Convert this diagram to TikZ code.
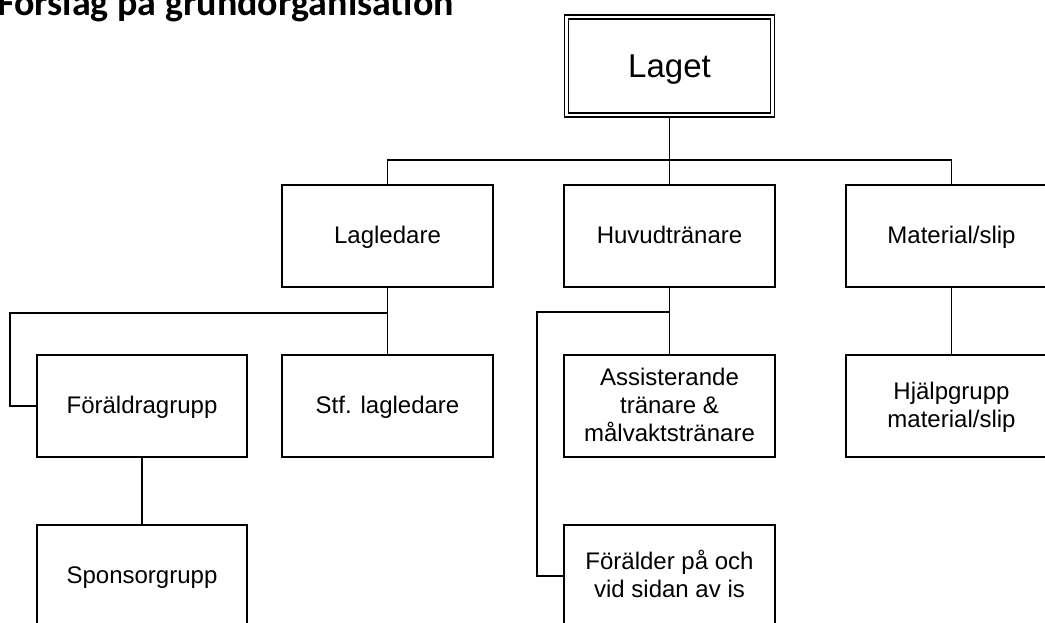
\documentclass[tikz,border=0pt]{standalone}
\usepackage{fontspec}
\setmainfont{Liberation Sans}
\newfontfamily\titlefont{Carlito}
\newcommand\boxtext[2]{\raisebox{#1}{\begin{tabular}[t]{@{}c@{}}#2\end{tabular}}}
\begin{document}
\begin{tikzpicture}[x=1pt,y=-1pt,
  box/.style={draw, line width=1.3pt, minimum width=211pt, minimum height=102pt, inner sep=2pt, outer sep=0pt, text height=0pt, text depth=0pt, font=\fontsize{24}{28}\selectfont},
  topbox/.style={draw, double, double distance=2.7pt, line width=1.3pt, minimum width=206pt, minimum height=98pt, outer sep=2.65pt, text height=0pt, text depth=0pt, font=\fontsize{33}{38}\selectfont},
  conn/.style={line width=1.3pt}]
\useasboundingbox (0,0) rectangle (1045,622);
\node[anchor=base west, inner sep=0pt, font=\titlefont\bfseries\fontsize{38}{44}\selectfont] (title) at (-3,15) {Förslag på grundorganisation};

\node[topbox] (laget) at (669.5,66) {\raisebox{-11pt}{Laget}};

\node[box] (lag) at (387.5,236) {\boxtext{-7pt}{Lagledare}};
\node[box] (huv) at (669.5,236) {\boxtext{-7pt}{Huvudtränare}};
\node[box] (mat) at (951.5,236) {\boxtext{-7pt}{Material/slip}};

\node[box, minimum width=210pt] (foer) at (142,406) {\boxtext{-7pt}{Föräldragrupp}};
\node[box] (stf) at (387.5,406) {\boxtext{-7pt}{Stf. lagledare}};
\node[box] (ass) at (669.5,406) {\boxtext{21pt}{Assisterande\\tränare \&\\målvaktstränare}};
\node[box] (hjalp) at (951.5,406) {\boxtext{7pt}{Hjälpgrupp\\material/slip}};

\node[box, minimum width=210pt] (spon) at (142,576) {\boxtext{-7pt}{Sponsorgrupp}};
\node[box] (forald) at (669.5,576) {\boxtext{7pt}{Förälder på och\\vid sidan av is}};

\coordinate (bus) at (669.5,160);
\coordinate (lj) at (387.5,313);
\coordinate (lc) at (10,313);
\coordinate (hj) at (669.5,312);
\coordinate (hc) at (537,312);

\draw[conn] (laget.south) -- (bus);
\draw[conn] (lag.north) |- (bus) -| (mat.north);
\draw[conn] (huv.north) -- (bus);

\draw[conn] (lag.south) -- (stf.north);
\draw[conn] (lj) -- (lc) |- (foer.west);
\draw[conn] (foer.south) -- (spon.north);

\draw[conn] (huv.south) -- (ass.north);
\draw[conn] (hj) -- (hc) |- (forald.west);

\draw[conn] (mat.south) -- (hjalp.north);
\end{tikzpicture}
\end{document}
